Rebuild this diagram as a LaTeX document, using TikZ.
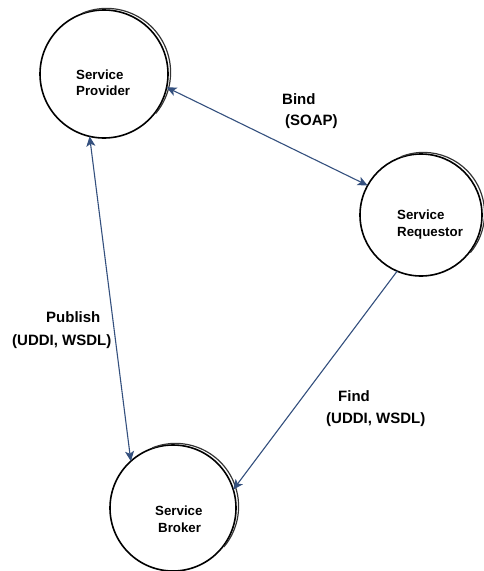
\documentclass[tikz,border=0pt]{standalone}
\usepackage{fontspec}
\setmainfont{Liberation Sans}
\usetikzlibrary{arrows.meta}
\definecolor{arrowblue}{HTML}{34507E}
\tikzset{
  svc/.style={circle, draw=black, line width=1.6pt, minimum size=#1, inner sep=0pt, outer sep=0pt},
  shadowarc/.style={draw=black!80, line width=1.2pt},
  conn/.style={draw=arrowblue, line width=1.1pt},
  mytip/.tip={Stealth[length=10pt,width=9pt,inset=2.5pt]},
  svctext/.style={anchor=base west, inner sep=0pt, font=\bfseries\fontsize{13.3}{16}\selectfont},
  lbltext/.style={anchor=base west, inner sep=0pt, font=\bfseries\fontsize{15}{18}\selectfont}
}
\begin{document}
\begin{tikzpicture}[x=1pt,y=-1pt]
\useasboundingbox (0,0) rectangle (483,571);
% circles
\node[svc=128pt] (prov) at (104,74) {};
\node[svc=122pt] (req) at (421,215) {};
\node[svc=126pt] (brok) at (173,508) {};
% shadow arcs
\draw[shadowarc] ([shift={(2.6,-1.6)}]prov.112) arc[start angle=112,end angle=-40,radius=64pt];
\draw[shadowarc] ([shift={(2.6,-1.6)}]req.112) arc[start angle=112,end angle=-40,radius=61pt];
\draw[shadowarc] ([shift={(2.6,-1.6)}]brok.112) arc[start angle=112,end angle=-40,radius=63pt];
% node texts
\node[svctext] (provt1) at (76,79) {Service};
\node[svctext] (provt2) at (76,95) {Provider};
\node[svctext] (reqt1) at (397,219) {Service};
\node[svctext] (reqt2) at (397,236) {Requestor};
\node[svctext] (brokt1) at (155,515) {Service};
\node[svctext] (brokt2) at (158,532) {Broker};
% connectors
\draw[conn, {mytip}-{mytip}] (prov.-12) -- (req.151);
\draw[conn, {mytip}-{mytip}] (prov.-103) -- (brok.132);
\draw[conn, -{mytip}] (req.-113) -- (brok.17);
% labels
\node[lbltext] (bind1) at (282,104) {Bind};
\node[lbltext] (bind2) at (285,125) {(SOAP)};
\node[lbltext] (pub1) at (46,322) {Publish};
\node[lbltext] (pub2) at (12,345) {(UDDI, WSDL)};
\node[lbltext] (find1) at (338,401) {Find};
\node[lbltext] (find2) at (326,423) {(UDDI, WSDL)};
\end{tikzpicture}
\end{document}
